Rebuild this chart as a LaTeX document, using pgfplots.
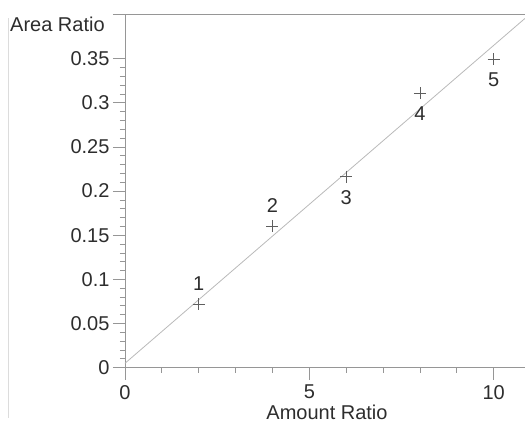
\documentclass[border=0pt]{standalone}
\usepackage{fontspec}
\setmainfont{Liberation Sans}
\usepackage{pgfplots}
\pgfplotsset{compat=1.18}
\definecolor{axgray}{RGB}{150,150,150}
\definecolor{mkgray}{RGB}{95,95,95}
\definecolor{lngray}{RGB}{185,185,185}
\definecolor{txt}{RGB}{45,45,45}
\begin{document}
\begin{tikzpicture}
\begin{axis}[
  scale only axis, width=400pt, height=353.2pt,
  xmin=0, xmax=10.85, ymin=0, ymax=0.4,
  axis x line*=bottom, axis y line*=left,
  axis line style={axgray, line width=0.8pt, -},
  tick style={axgray, line width=0.8pt},
  tick align=outside,
  major tick length=12pt, minor tick length=5pt,
  xtick={0,5,10}, xticklabels={0,5,10},
  minor x tick num=4,
  ytick={0,0.05,0.1,0.15,0.2,0.25,0.3,0.35},
  yticklabels={0,0.05,0.1,0.15,0.2,0.25,0.3,0.35},
  minor y tick num=4,
  extra y ticks={0.4}, extra y tick labels={},
  ticklabel style={font=\fontsize{20}{24}\selectfont, text=txt},
  xticklabel style={yshift=-2pt},
  clip=false,
]
\coordinate (o) at (rel axis cs:0,0);
\draw[axgray, line width=0.8pt] (rel axis cs:0,1) -- (rel axis cs:1,1);
\addplot[lngray, line width=0.8pt] coordinates {(0,0.005) (10.85,0.3956)};
\addplot[only marks, mark=+, mark size=6pt, mkgray, mark options={line width=0.8pt},
  nodes near coords, point meta=explicit symbolic,
  every node near coord/.append style={font=\fontsize{20}{24}\selectfont, text=txt, anchor=center, yshift=20.5pt}]
  table[meta=l] {
x y l
2 0.0718 1
4 0.1605 2
};
\addplot[only marks, mark=+, mark size=6pt, mkgray, mark options={line width=0.8pt},
  nodes near coords, point meta=explicit symbolic,
  every node near coord/.append style={font=\fontsize{20}{24}\selectfont, text=txt, anchor=center, yshift=-20.5pt}]
  table[meta=l] {
x y l
6 0.2163 3
8 0.3108 4
10 0.3496 5
};
\node[font=\fontsize{20}{24}\selectfont, text=txt, anchor=base, inner sep=0pt] at ([xshift=202pt, yshift=-51.5pt]rel axis cs:0,0) {Amount Ratio};
\node[font=\fontsize{20}{24}\selectfont, text=txt, anchor=west, inner sep=0pt] at ([xshift=-115pt, yshift=-10pt]rel axis cs:0,1) {Area Ratio};
\end{axis}
\draw[lngray!50, line width=0.8pt] ([xshift=-117pt, yshift=-50pt]o) -- ([xshift=-117pt, yshift=350pt]o);
\pgfresetboundingbox
\path (o) ++(-125pt,-56.3pt) rectangle ++(525pt,424pt);
\end{tikzpicture}
\end{document}
